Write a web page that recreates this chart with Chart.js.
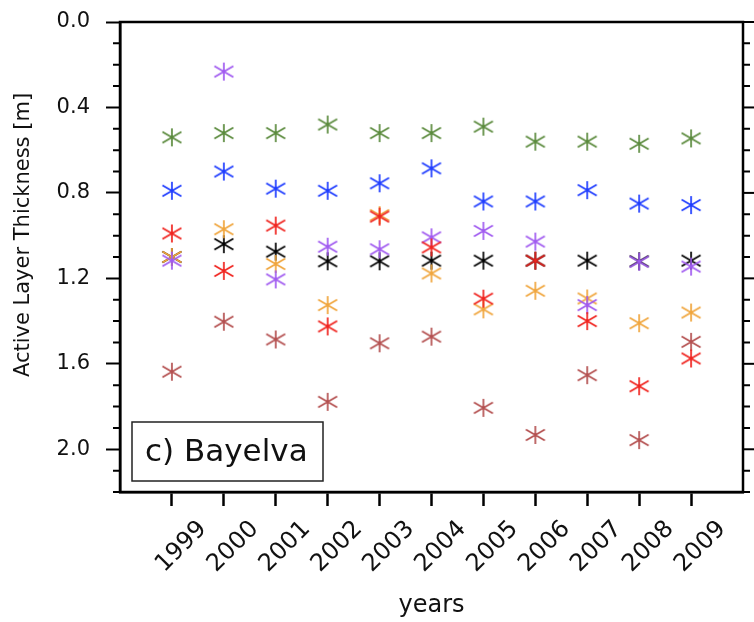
<!DOCTYPE html>
<html>
<head>
<meta charset="utf-8">
<script src="https://cdn.jsdelivr.net/npm/chart.js@4.4.0/dist/chart.umd.min.js"></script>
<style>
html, body { margin: 0; padding: 0; background: #fff; }
</style>
</head>
<body>
<canvas id="altChart" width="754" height="622"></canvas>
<script>
// years on the x axis
const years = [1999, 2000, 2001, 2002, 2003, 2004, 2005, 2006, 2007, 2008, 2009];
const yTicks = [0.0, 0.4, 0.8, 1.2, 1.6, 2.0];

// active layer thickness [m], one array per colour
const greenVals  = [0.54, 0.52, 0.52, 0.48, 0.52, 0.52, 0.49, 0.56, 0.56, 0.57, 0.545];
const blueVals   = [0.79, 0.70, 0.78, 0.79, 0.755, 0.685, 0.84, 0.84, 0.787, 0.85, 0.857];
const redVals    = [0.99, 1.165, 0.953, 1.425, 0.911, 1.055, 1.295, 1.117, 1.40, 1.705, 1.575];
const orangeVals = [1.10, 0.97, 1.133, 1.325, 0.904, 1.177, 1.345, 1.258, 1.294, 1.41, 1.36];
const purpleVals = [1.117, 0.232, 1.205, 1.052, 1.064, 1.008, 0.978, 1.028, 1.325, 1.122, 1.145];
const blackVals  = [1.10, 1.04, 1.075, 1.12, 1.12, 1.117, 1.117, 1.117, 1.117, 1.12, 1.117];
const brownVals  = [1.637, 1.403, 1.486, 1.778, 1.504, 1.473, 1.806, 1.933, 1.653, 1.957, 1.497];

// asterisk marker (vertical stroke + two diagonals)
function asterisk(color) {
    const c = document.createElement('canvas');
    c.width = 22; c.height = 22;
    const g = c.getContext('2d');
    g.strokeStyle = color;
    g.lineWidth = 1.7;
    g.translate(11, 11);
    g.beginPath();
    g.moveTo(0, -9); g.lineTo(0, 9);
    g.moveTo(-9.5, -5.5); g.lineTo(9.5, 5.5);
    g.moveTo(-9.5, 5.5); g.lineTo(9.5, -5.5);
    g.stroke();
    return c;
}

function series(label, vals, color) {
    return {
        label: label,
        data: years.map((yr, i) => ({ x: yr, y: vals[i] })),
        pointStyle: asterisk(color),
        pointRadius: 10,
        showLine: false
    };
}

const FONT = 'DejaVu Sans';

const framePlugin = {
    id: 'frame',
    afterDraw(chart) {
        const { ctx, chartArea: a } = chart;
        const y = chart.scales.y;
        ctx.save();
        ctx.strokeStyle = '#000';
        ctx.lineWidth = 2.5;
        ctx.strokeRect(a.left, a.top, a.right - a.left, a.bottom - a.top);

        // minor ticks left, all ticks right
        ctx.lineWidth = 2;
        for (let i = 0; i <= 22; i++) {
            const py = y.getPixelForValue(i / 10);
            const major = i % 4 === 0;
            const len = major ? 14 : 7;
            ctx.beginPath();
            if (!major) { ctx.moveTo(a.left - len, py); ctx.lineTo(a.left, py); }
            ctx.moveTo(a.right, py); ctx.lineTo(a.right + len, py);
            ctx.stroke();
        }

        // y axis title
        ctx.fillStyle = '#111';
        ctx.font = '21px "' + FONT + '"';
        ctx.textAlign = 'center';
        ctx.textBaseline = 'middle';
        ctx.save();
        ctx.translate(24, 235);
        ctx.rotate(-Math.PI / 2);
        ctx.fillText('Active Layer Thickness [m]', 0, 0);
        ctx.restore();

        // station label
        ctx.lineWidth = 1.5;
        ctx.strokeStyle = '#222';
        ctx.strokeRect(a.left + 12, a.bottom - 70, 191, 59);
        ctx.font = '31px "' + FONT + '"';
        ctx.textAlign = 'left';
        ctx.textBaseline = 'alphabetic';
        ctx.fillText('c) Bayelva', a.left + 25, a.bottom - 31);
        ctx.restore();
    }
};

Chart.defaults.font.family = FONT;
Chart.defaults.font.size = 21;
Chart.defaults.color = '#111';

const ctx = document.getElementById('altChart').getContext('2d');

const altChart = new Chart(ctx, {
    type: 'scatter',
    data: {
        datasets: [
            series('red', redVals, 'rgb(240,35,30)'),
            series('purple', purpleVals, 'rgb(160,90,240)'),
            series('orange', orangeVals, 'rgb(240,165,60)'),
            series('black', blackVals, 'rgb(0,0,0)'),
            series('brown', brownVals, 'rgb(180,80,80)'),
            series('blue', blueVals, 'rgb(30,60,255)'),
            series('green', greenVals, 'rgb(90,138,60)')
        ]
    },
    options: {
        responsive: false,
        animation: false,
        devicePixelRatio: 1,
        layout: { padding: { top: 22, right: 6, left: 0, bottom: 0 } },
        plugins: {
            legend: { display: false },
            tooltip: { enabled: false }
        },
        scales: {
            x: {
                type: 'linear',
                min: 1998,
                max: 2010,
                afterBuildTicks: s => { s.ticks = years.map(v => ({ value: v })); },
                afterFit: s => { s.height = 130; s.paddingLeft = 0; s.paddingRight = 0; },
                ticks: {
                    autoSkip: false,
                    minRotation: 45,
                    maxRotation: 45,
                    padding: 9,
                    labelOffset: 31,
                    font: { size: 24 },
                    callback: v => String(v)
                },
                grid: { drawOnChartArea: false, tickLength: 14, tickWidth: 2.5, tickColor: '#000' },
                border: { display: true, color: '#000', width: 2.5 },
                title: { display: true, text: 'years', font: { size: 24 }, padding: { top: 0, bottom: 2 } }
            },
            y: {
                reverse: true,
                min: 0,
                max: 2.2,
                afterBuildTicks: s => { s.ticks = yTicks.map(v => ({ value: v })); },
                afterFit: s => { s.width = 120; s.paddingTop = 0; s.paddingBottom = 0; },
                ticks: {
                    padding: 16,
                    callback: v => v.toFixed(1)
                },
                grid: { drawOnChartArea: false, tickLength: 14, tickWidth: 2, tickColor: '#000' },
                border: { display: true, color: '#000', width: 2.5 }
            }
        }
    },
    plugins: [framePlugin]
});
</script>
</body>
</html>
